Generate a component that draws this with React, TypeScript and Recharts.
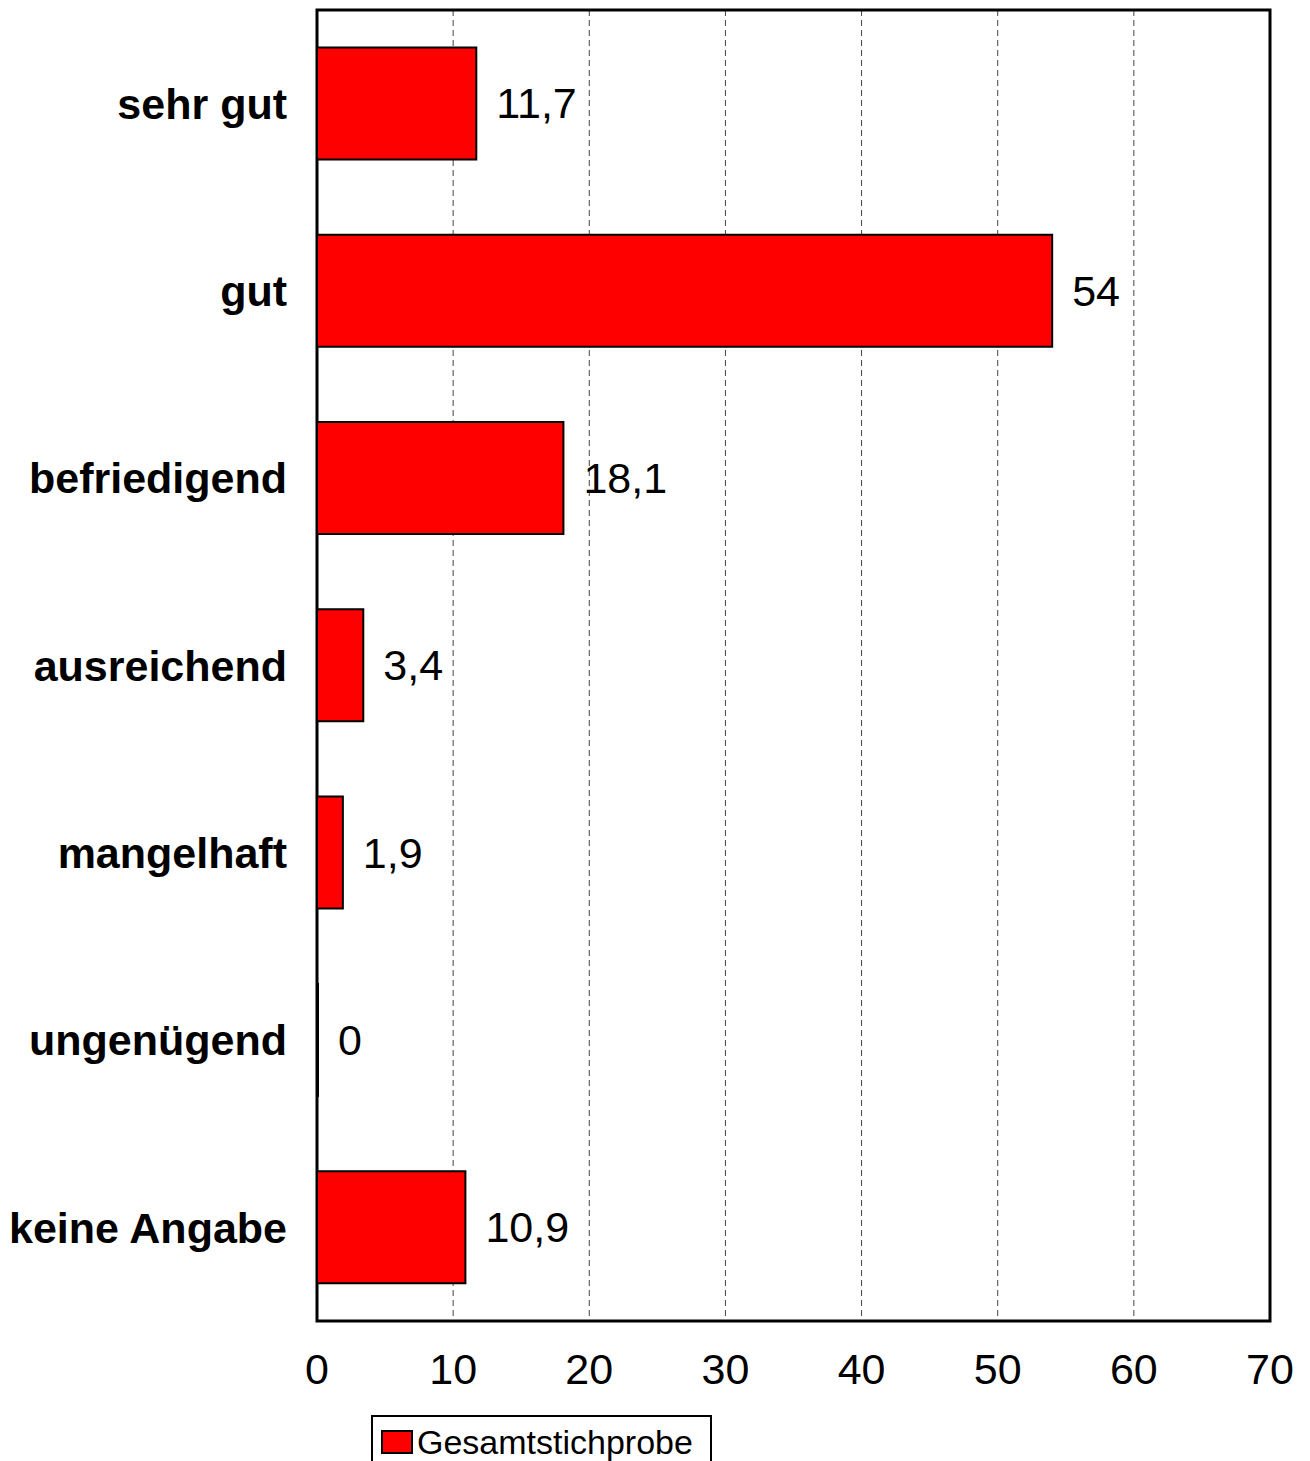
import { BarChart, Bar, XAxis, YAxis, CartesianGrid, LabelList, ReferenceArea } from "recharts";

const categories = ["sehr gut", "gut", "befriedigend", "ausreichend", "mangelhaft", "ungenügend", "keine Angabe"];
const values = [11.7, 54, 18.1, 3.4, 1.9, 0, 10.9];
const xTicks = [0, 10, 20, 30, 40, 50, 60, 70];
const seriesName = "Gesamtstichprobe";

const data = categories.map((name, i) => ({ name, value: values[i] }));

const font = "'Liberation Sans', Arial, sans-serif";

function ValueLabel(props: any) {
  const { x, y, width, height, value } = props;
  return (
    <text
      x={Number(x) + Number(width || 0) + 20}
      y={Number(y) + Number(height) / 2}
      dominantBaseline="central"
      fill="#000"
      fontSize={43}
      fontFamily={font}
    >
      {String(value).replace(".", ",")}
    </text>
  );
}

function LegendBox() {
  return (
    <div
      style={{
        position: "absolute",
        left: 371,
        top: 1415,
        border: "2px solid #000",
        width: 341,
        height: 54,
        boxSizing: "border-box",
        display: "flex",
        alignItems: "center",
        paddingLeft: 8,
        fontFamily: font,
        fontSize: 34,
        color: "#000",
        background: "#fff",
      }}
    >
      <span
        style={{
          display: "inline-block",
          width: 28,
          height: 20,
          background: "#ff0000",
          border: "2px solid #000",
          marginRight: 4,
        }}
      />
      {seriesName}
    </div>
  );
}

export default function App() {
  return (
    <div style={{ position: "absolute", left: 0, top: 0, width: 1310, height: 1461, background: "#fff", overflow: "hidden" }}>
      <BarChart
        layout="vertical"
        width={1310}
        height={1461}
        data={data}
        margin={{ top: 10, right: 40, left: 0, bottom: 80 }}
        barCategoryGap="20%"
      >
        <CartesianGrid horizontal={false} stroke="#444" strokeDasharray="6 4" />
        <XAxis
          type="number"
          domain={[0, 70]}
          ticks={xTicks}
          interval={0}
          height={60}
          axisLine={false}
          tickLine={false}
          tickSize={0}
          tickMargin={32}
          tick={{ fill: "#000", fontSize: 43, fontFamily: font }}
        />
        <YAxis
          type="category"
          dataKey="name"
          width={317}
          axisLine={false}
          tickLine={false}
          tickSize={0}
          tickMargin={30}
          tick={{ fill: "#000", fontSize: 43, fontWeight: "bold", fontFamily: font }}
        />
        <Bar
          dataKey="value"
          name={seriesName}
          fill="#ff0000"
          stroke="#000"
          strokeWidth={2}
          minPointSize={1}
          isAnimationActive={false}
        >
          <LabelList dataKey="value" content={ValueLabel} />
        </Bar>
        <ReferenceArea x1={0} x2={70} fill="none" stroke="#000" strokeWidth={3} ifOverflow="visible" />
      </BarChart>
      <LegendBox />
    </div>
  );
}
